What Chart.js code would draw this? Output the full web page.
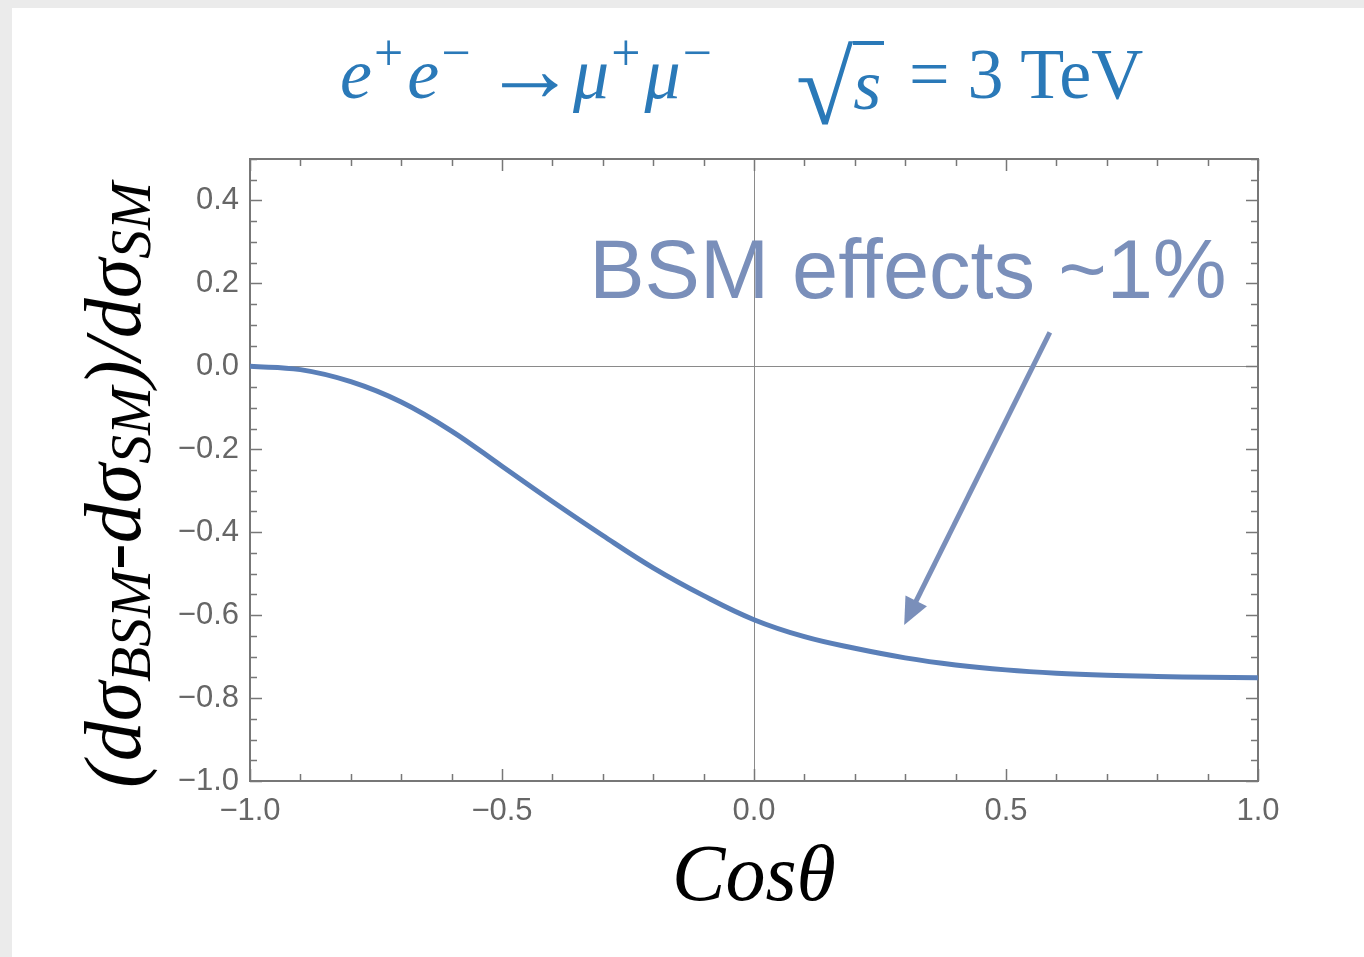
<!DOCTYPE html>
<html>
<head>
<meta charset="utf-8">
<script src="https://cdn.jsdelivr.net/npm/chart.js@4.4.1/dist/chart.umd.min.js"></script>
<style>
  html, body { margin: 0; padding: 0; background: #ebebeb; }
  #panel { position: absolute; left: 12px; top: 8px; width: 1352px; height: 949px; background: #fff; overflow: hidden; }
  #plot { position: absolute; left: 0; top: 0; }
  .tt {
    position: absolute; top: 30px;
    font-family: 'Liberation Serif', 'Times New Roman', serif;
    font-size: 72px; line-height: 72px; color: #2a79b8; white-space: nowrap;
  }
  .tt .sup { font-size: 0.72em; position: relative; top: -0.55em; margin-left: 2px; margin-right: 4px; }
  .tt .arr { font-size: 1.3em; position: relative; top: -0.04em; }
  .tt .rad { font-size: 1.45em; position: relative; top: 0.14em; }
  .tt .over { border-top: 4px solid #2a79b8; position: relative; top: 0; padding-right: 3px; }
  #ytitle {
    position: absolute; left: 105px; top: 477px;
    transform: translate(-50%, -50%) rotate(-90deg);
    font-family: 'Liberation Serif', 'Times New Roman', serif;
    font-style: italic; font-size: 80px; line-height: 90px; color: #000; white-space: nowrap;
  }
  #ytitle .sub { font-size: 0.72em; position: relative; top: 0.18em; }
</style>
</head>
<body>
<div id="panel">
  <canvas id="plot" width="1352" height="949"></canvas>
  <div class="tt" style="left:328px"><i>e</i><span class="sup">+</span><i>e</i><span class="sup">−</span></div>
  <div class="tt" style="left:471px"><span class="arr">→</span></div>
  <div class="tt" style="left:561px"><i>μ</i><span class="sup">+</span><i>μ</i><span class="sup">−</span></div>
  <div class="tt" style="left:784px"><span class="rad">√</span><span class="over"><i>s</i></span></div>
  <div class="tt" style="left:897px">= 3 TeV</div>
  <div id="ytitle">(dσ<span class="sub">BSM</span>-dσ<span class="sub">SM</span>)/dσ<span class="sub">SM</span></div>
</div>
<script>
// cos(theta) sample points and the relative deviation of the BSM cross section
var cosTheta = [-1.0, -0.9, -0.8, -0.7, -0.6, -0.5, -0.4, -0.3, -0.2, -0.1,
                 0.0,  0.1,  0.2,  0.3,  0.4,  0.5,  0.6,  0.7,  0.8,  0.9, 1.0];
var ratio    = [0.000, -0.008, -0.037, -0.086, -0.156, -0.241, -0.326, -0.408, -0.486, -0.553,
                -0.611, -0.652, -0.680, -0.703, -0.720, -0.732, -0.740, -0.745, -0.748, -0.750, -0.751];

var xTicks = [-1.0, -0.5, 0.0, 0.5, 1.0];
var yTicks = [-1.0, -0.8, -0.6, -0.4, -0.2, 0.0, 0.2, 0.4];

var noteText  = 'BSM effects ~1%';
var noteAt    = { x: -0.327, y: 0.164 };
var arrowFrom = { x: 0.587, y: 0.082 };
var arrowTo   = { x: 0.298, y: -0.624 };

var AXIS_GRAY = '#777777';
var NOTE_BLUE = '#7a8fba';

function fmt(v) {
  return (v < 0 ? '\u2212' : '') + Math.abs(v).toFixed(1);
}

function zeroLine(ctx) {
  return ctx.tick && Math.abs(ctx.tick.value) < 1e-9 ? '#8a8a8a' : 'rgba(0,0,0,0)';
}

// frame with inward ticks on all four sides
var framePlugin = {
  id: 'frame',
  beforeDatasetsDraw: function(chart) {
    var ctx = chart.ctx, a = chart.chartArea;
    var xs = chart.scales.x, ys = chart.scales.y;
    ctx.save();
    ctx.strokeStyle = AXIS_GRAY;
    ctx.lineWidth = 1.5;
    ctx.beginPath();
    for (var i = 0; i <= 20; i++) {
      var px = Math.round(xs.getPixelForValue(-1 + i * 0.1)) + 0.5;
      var len = i % 5 === 0 ? 12 : 7;
      ctx.moveTo(px, a.bottom); ctx.lineTo(px, a.bottom - len);
      ctx.moveTo(px, a.top);    ctx.lineTo(px, a.top + len);
    }
    for (var j = 0; j <= 30; j++) {
      var py = Math.round(ys.getPixelForValue(-1 + j * 0.05)) + 0.5;
      var ylen = j % 4 === 0 ? 12 : 7;
      ctx.moveTo(a.left, py);  ctx.lineTo(a.left + ylen, py);
      ctx.moveTo(a.right, py); ctx.lineTo(a.right - ylen, py);
    }
    ctx.stroke();
    ctx.lineWidth = 2;
    ctx.strokeRect(a.left, a.top, a.right - a.left, a.bottom - a.top);
    ctx.restore();
  },
  afterDatasetsDraw: function(chart) {
    var ctx = chart.ctx;
    var xs = chart.scales.x, ys = chart.scales.y;
    ctx.save();
    ctx.fillStyle = NOTE_BLUE;
    ctx.strokeStyle = NOTE_BLUE;
    ctx.font = '83px "Liberation Sans", Arial, sans-serif';
    ctx.textBaseline = 'alphabetic';
    ctx.fillText(noteText, xs.getPixelForValue(noteAt.x), ys.getPixelForValue(noteAt.y));

    var x0 = xs.getPixelForValue(arrowFrom.x), y0 = ys.getPixelForValue(arrowFrom.y);
    var x1 = xs.getPixelForValue(arrowTo.x),   y1 = ys.getPixelForValue(arrowTo.y);
    var dx = x1 - x0, dy = y1 - y0, d = Math.sqrt(dx * dx + dy * dy);
    var ux = dx / d, uy = dy / d;
    var headLen = 27, headHalf = 12;
    var bx = x1 - ux * headLen, by = y1 - uy * headLen;
    ctx.lineWidth = 5;
    ctx.beginPath();
    ctx.moveTo(x0, y0);
    ctx.lineTo(bx + ux * 2, by + uy * 2);
    ctx.stroke();
    ctx.beginPath();
    ctx.moveTo(x1, y1);
    ctx.lineTo(bx - uy * headHalf, by + ux * headHalf);
    ctx.lineTo(bx + uy * headHalf, by - ux * headHalf);
    ctx.closePath();
    ctx.fill();
    ctx.restore();
  }
};

var tickFont = { family: '"Liberation Sans", Arial, sans-serif', size: 31 };

var chart = new Chart(document.getElementById('plot'), {
  type: 'line',
  data: {
    datasets: [{
      data: cosTheta.map(function(c, i) { return { x: c, y: ratio[i] }; }),
      borderColor: '#5a7fb8',
      borderWidth: 5,
      pointRadius: 0,
      fill: false,
      tension: 0.4
    }]
  },
  options: {
    responsive: false,
    devicePixelRatio: 1,
    animation: false,
    layout: { padding: { left: 0, top: 151, right: 106, bottom: 0 } },
    plugins: { legend: { display: false }, tooltip: { enabled: false } },
    scales: {
      x: {
        type: 'linear', min: -1, max: 1,
        afterBuildTicks: function(s) { s.ticks = xTicks.map(function(v) { return { value: v }; }); },
        afterFit: function(s) { s.height = 176; },
        ticks: { callback: fmt, font: tickFont, color: '#666', padding: 12, maxRotation: 0, autoSkip: false },
        grid: { color: zeroLine, lineWidth: 1, drawTicks: false },
        border: { display: false },
        title: {
          display: true, text: 'Cosθ', color: '#000',
          font: { family: '"Liberation Serif", "Times New Roman", serif', style: 'italic', size: 80 },
          padding: { top: 0, bottom: 30 }
        }
      },
      y: {
        type: 'linear', min: -1, max: 0.5,
        afterBuildTicks: function(s) { s.ticks = yTicks.map(function(v) { return { value: v }; }); },
        afterFit: function(s) { s.width = 238; },
        ticks: { callback: fmt, font: tickFont, color: '#666', padding: 11, autoSkip: false },
        grid: { color: zeroLine, lineWidth: 1, drawTicks: false },
        border: { display: false }
      }
    }
  },
  plugins: [framePlugin]
});
</script>
</body>
</html>
